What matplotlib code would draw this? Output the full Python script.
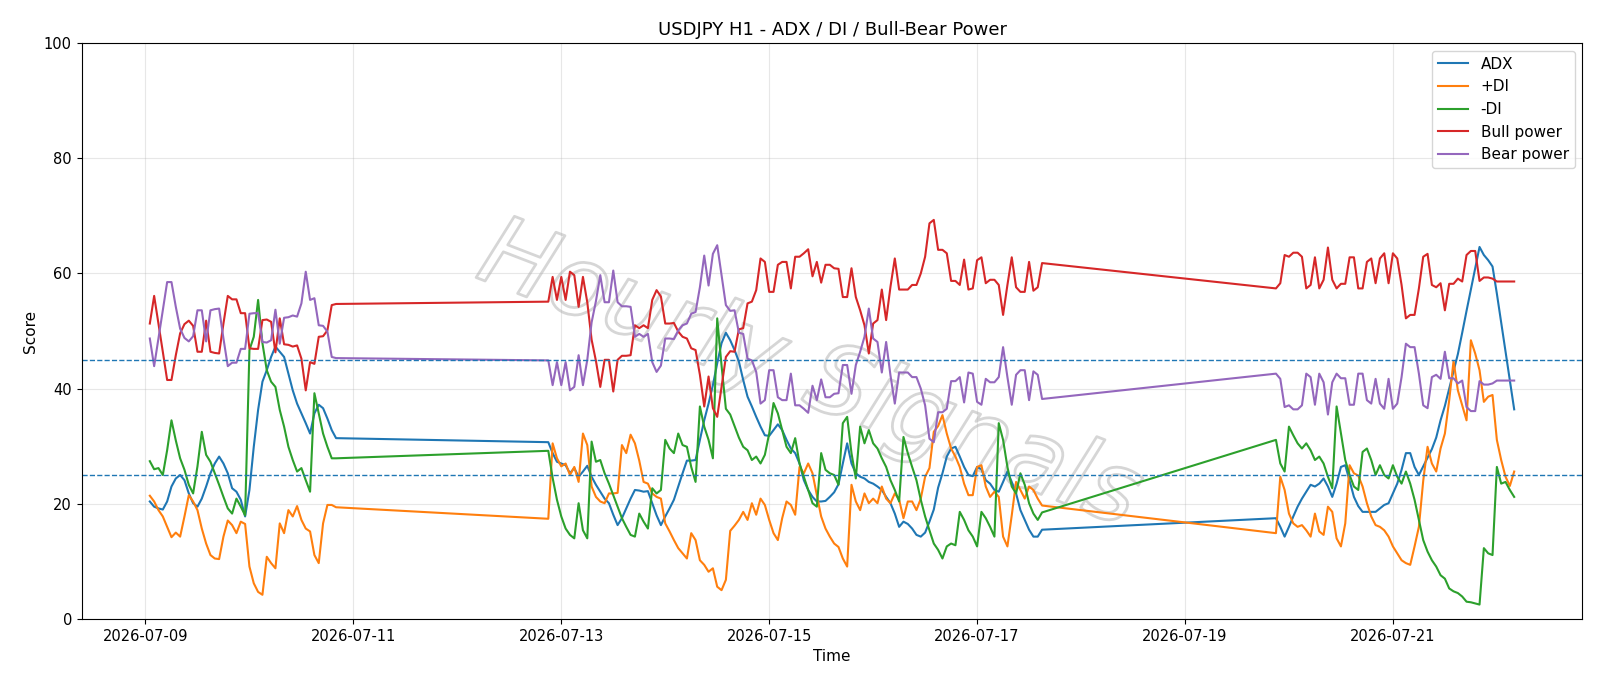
import matplotlib
matplotlib.use("Agg")
import matplotlib.pyplot as plt
import matplotlib.dates as mdates
import matplotlib.patheffects as pe
import pandas as pd

# ---- segment start times (hourly data, weekend gaps) ----
seg_starts = ["2026-07-09 01:00", "2026-07-12 21:00", "2026-07-19 21:00"]

# ---- ADX ----
adx_s1 = [20.4, 19.5, 19.2, 19.0, 20.4, 23.0, 24.4, 25.0, 24.1, 21.8, 20.1, 19.5, 20.9, 23.0, 25.3, 27.0, 28.2, 27.0,
          25.3, 22.7, 22.1, 20.7, 17.8, 22.4, 29.9, 36.3, 41.2, 43.2, 45.5, 47.3, 46.4, 45.5, 42.6, 39.7, 37.4, 35.7,
          34.0, 32.2, 35.7, 37.2, 36.6, 34.8, 32.8, 31.4]
adx_s2 = [30.7, 28.8, 27.3, 27.0, 26.7, 25.3, 26.2, 24.7, 25.6, 26.6, 24.7, 23.3, 22.1, 20.9, 20.1, 18.1, 16.3, 17.5,
          19.2, 20.9, 22.4, 22.3, 22.1, 22.2, 20.1, 18.0, 16.3, 17.8, 19.2, 20.7, 23.0, 25.3, 27.5, 27.5, 27.6, 31.1,
          34.5, 37.4, 40.6, 44.4, 47.9, 49.7, 48.4, 46.7, 44.7, 41.5, 38.6, 36.9, 35.1, 33.4, 31.9, 31.8, 32.8, 33.8,
          32.8, 31.1, 29.6, 28.8, 27.0, 24.1, 22.4, 21.2, 20.4, 20.4, 20.5, 21.2, 22.0, 23.4, 27.0, 30.5, 27.0, 25.3,
          24.7, 24.4, 23.8, 23.5, 23.0, 22.4, 21.2, 20.1, 18.3, 16.0, 16.9, 16.5, 15.7, 14.6, 14.3, 15.0, 16.9, 19.0,
          22.8, 25.3, 28.2, 29.6, 29.9, 28.2, 26.4, 25.0, 24.8, 26.4, 26.0, 24.1, 23.5, 22.4, 22.1, 23.8, 25.6, 23.8,
          21.8, 18.9, 17.2, 15.5, 14.3, 14.3, 15.5]
adx_s3 = [17.5, 16.0, 14.3, 16.0, 17.8, 19.5, 20.9, 22.1, 23.3, 23.0, 23.5, 24.4, 23.0, 21.2, 23.5, 26.4, 26.7, 24.0,
          21.2, 19.6, 18.6, 18.6, 18.6, 18.6, 19.2, 19.8, 20.1, 21.8, 23.5, 25.9, 28.8, 28.8, 26.4, 25.0, 26.5, 28.0,
          29.5, 31.5, 34.5, 37.0, 40.0, 43.0, 46.0, 49.7, 53.5, 57.2, 60.9, 64.6, 63.2, 62.3, 61.2, 56.5, 51.5, 46.5,
          41.4, 36.4]

# ---- +DI ----
pdi_s1 = [21.4, 20.4, 18.9, 17.8, 16.0, 14.2, 15.0, 14.3, 17.8, 21.5, 20.4, 18.9, 15.7, 13.1, 11.1, 10.5, 10.4, 14.3,
          17.1, 16.3, 14.9, 16.9, 16.5, 9.1, 6.2, 4.7, 4.2, 10.8, 9.7, 8.8, 16.6, 14.9, 18.9, 17.8, 19.6, 17.2, 15.7,
          15.2, 11.1, 9.7, 16.6, 19.8, 19.8, 19.4]
pdi_s2 = [17.4, 30.5, 27.9, 26.5, 27.0, 25.0, 26.4, 23.8, 32.2, 30.2, 23.0, 21.2, 20.4, 20.1, 21.8, 21.8, 21.9, 30.2,
          28.8, 32.0, 30.5, 27.5, 23.8, 23.5, 21.8, 21.2, 20.9, 16.6, 15.2, 13.7, 12.3, 11.4, 10.5, 14.9, 13.7, 10.2,
          9.4, 8.2, 8.8, 5.6, 5.0, 6.8, 15.3, 16.2, 17.2, 18.6, 17.2, 20.1, 18.1, 20.9, 19.8, 17.2, 14.9, 13.7, 17.5,
          20.4, 19.8, 18.1, 26.4, 25.3, 27.0, 25.3, 21.5, 17.8, 15.7, 14.3, 13.1, 12.5, 10.5, 9.1, 23.3, 20.4, 18.9,
          21.8, 20.1, 20.9, 20.1, 23.0, 20.9, 20.1, 21.8, 20.7, 17.5, 20.4, 20.4, 18.9, 20.9, 24.7, 26.2, 32.5, 33.5,
          35.4, 32.2, 29.6, 28.2, 26.4, 23.5, 21.5, 21.5, 26.4, 26.7, 23.0, 21.2, 22.1, 21.2, 14.3, 12.6, 18.0, 23.8,
          22.4, 20.9, 23.0, 22.4, 20.9, 19.7]
pdi_s3 = [14.9, 24.7, 22.4, 18.3, 16.6, 16.0, 16.3, 15.4, 14.3, 18.3, 15.2, 14.6, 19.5, 18.6, 14.0, 12.6, 16.6, 26.7,
          25.3, 24.9, 23.0, 20.1, 17.8, 16.3, 16.0, 15.4, 14.3, 12.6, 11.4, 10.2, 9.7, 9.4, 12.6, 16.0, 24.0, 29.9,
          27.0, 25.6, 29.6, 32.2, 38.0, 44.8, 39.7, 37.1, 34.5, 48.4, 46.1, 43.2, 37.7, 38.6, 38.9, 31.1, 27.6, 24.7,
          23.1, 25.6]

# ---- -DI ----
mdi_s1 = [27.4, 26.0, 26.2, 25.0, 29.3, 34.5, 31.0, 27.9, 25.9, 23.3, 21.8, 26.5, 32.5, 28.5, 27.3, 25.3, 23.3, 21.2,
          19.2, 18.3, 20.9, 19.5, 18.0, 46.7, 49.0, 55.4, 47.9, 43.2, 41.2, 40.3, 36.3, 33.4, 29.9, 27.6, 25.6, 26.2,
          24.1, 22.1, 39.2, 35.7, 32.2, 29.9, 27.9, 27.9]
mdi_s2 = [29.2, 24.5, 20.7, 17.8, 15.7, 14.6, 14.0, 20.1, 15.4, 14.0, 30.8, 27.3, 27.6, 25.3, 23.5, 21.5, 19.5, 17.5,
          16.0, 14.6, 14.3, 18.3, 16.9, 15.7, 22.7, 21.8, 22.4, 31.1, 29.6, 28.8, 32.2, 30.2, 29.9, 26.4, 23.8, 36.9,
          33.4, 31.1, 27.9, 52.2, 44.0, 36.5, 35.5, 33.5, 31.5, 29.9, 29.3, 27.6, 28.2, 27.0, 28.5, 32.2, 37.5, 35.7,
          32.8, 29.9, 28.8, 31.4, 27.0, 24.7, 22.4, 20.1, 19.5, 28.8, 25.9, 25.3, 25.0, 23.3, 34.0, 35.1, 28.8, 24.4,
          33.4, 30.5, 32.8, 30.5, 29.6, 27.9, 26.4, 24.1, 22.4, 20.4, 31.6, 28.8, 26.4, 24.1, 20.7, 17.8, 15.4, 13.1,
          12.0, 10.5, 12.6, 13.1, 12.8, 18.6, 17.2, 15.4, 14.3, 12.6, 18.6, 17.5, 16.0, 14.3, 34.0, 31.1, 26.4, 23.0,
          21.8, 25.3, 23.3, 20.1, 18.3, 17.2, 18.5]
mdi_s3 = [31.1, 27.0, 25.6, 33.4, 31.9, 30.5, 29.6, 30.5, 29.3, 27.6, 28.2, 27.0, 24.7, 22.7, 36.9, 32.2, 27.6, 25.0,
          23.0, 22.4, 29.0, 29.6, 27.6, 25.0, 26.7, 25.0, 24.4, 26.7, 24.7, 23.5, 25.6, 23.5, 20.7, 17.2, 13.7, 11.7,
          10.2, 9.1, 7.6, 7.0, 5.3, 4.8, 4.5, 3.9, 3.0, 2.9, 2.7, 2.5, 12.3, 11.4, 11.1, 26.4, 23.5, 23.8, 22.4, 21.2]

# ---- Bull power ----
bull_s1 = [51.3, 56.1, 51.3, 46.4, 41.5, 41.5, 45.8, 49.6, 51.2, 51.8, 50.9, 46.4, 46.4, 51.8, 46.4, 46.2, 46.1, 51.3,
           56.1, 55.5, 55.5, 53.1, 53.1, 47.0, 46.9, 46.9, 51.9, 52.0, 51.6, 46.3, 52.2, 47.7, 47.6, 47.3, 47.5, 45.2,
           39.7, 44.6, 44.3, 49.0, 49.1, 50.1, 54.5, 54.7]
bull_s2 = [55.1, 59.4, 55.4, 59.4, 55.4, 60.3, 59.7, 54.2, 59.4, 55.0, 48.5, 44.8, 40.3, 45.0, 45.0, 39.5, 45.0, 45.7,
           45.7, 45.8, 51.0, 50.5, 51.0, 50.5, 55.4, 57.1, 56.0, 51.3, 51.3, 51.4, 49.9, 49.0, 48.7, 47.0, 46.7, 42.4,
           36.9, 42.1, 36.6, 35.1, 40.3, 45.5, 46.5, 46.4, 50.3, 50.5, 54.8, 55.1, 57.1, 62.6, 62.0, 56.8, 56.8, 61.5,
           62.0, 62.0, 57.4, 62.9, 62.9, 63.5, 64.2, 59.5, 62.0, 58.4, 61.5, 61.5, 60.9, 60.8, 55.9, 55.9, 60.9, 55.9,
           53.6, 51.0, 46.1, 51.3, 51.9, 57.2, 51.9, 57.7, 62.6, 57.2, 57.2, 57.2, 58.0, 58.0, 60.0, 62.9, 68.7, 69.3,
           64.1, 64.1, 63.5, 58.7, 58.7, 58.0, 62.4, 57.2, 57.4, 62.3, 62.8, 58.3, 58.9, 58.9, 58.0, 52.8, 58.0, 62.8,
           57.6, 56.8, 56.8, 62.0, 57.0, 57.6, 61.8]
bull_s3 = [57.4, 58.3, 63.2, 62.9, 63.6, 63.6, 62.9, 57.4, 58.0, 62.8, 57.4, 58.9, 64.5, 58.9, 57.4, 58.2, 58.2, 62.8,
           62.8, 57.4, 57.4, 62.0, 62.6, 58.3, 62.6, 63.5, 58.3, 63.5, 62.6, 58.0, 52.2, 52.8, 52.8, 57.4, 62.9, 63.4,
           58.0, 57.6, 58.3, 53.6, 58.2, 58.2, 59.1, 58.6, 63.2, 63.9, 63.9, 58.7, 59.3, 59.3, 59.1, 58.6, 58.6, 58.6,
           58.6, 58.6]

# ---- Bear power ----
bear_s1 = [48.7, 43.9, 48.7, 53.6, 58.5, 58.5, 54.2, 50.4, 48.8, 48.2, 49.1, 53.6, 53.6, 48.2, 53.6, 53.8, 53.9, 48.7,
           43.9, 44.5, 44.5, 46.9, 46.9, 53.0, 53.1, 53.1, 48.1, 48.0, 48.4, 53.7, 47.8, 52.3, 52.4, 52.7, 52.5, 54.8,
           60.3, 55.4, 55.7, 51.0, 50.9, 49.9, 45.5, 45.3]
bear_s2 = [44.9, 40.6, 44.6, 40.6, 44.6, 39.7, 40.3, 45.8, 40.6, 45.0, 51.5, 55.2, 59.7, 55.0, 55.0, 60.5, 55.0, 54.3,
           54.3, 54.2, 49.0, 49.5, 49.0, 49.5, 44.6, 42.9, 44.0, 48.7, 48.7, 48.6, 50.1, 51.0, 51.3, 53.0, 53.3, 57.6,
           63.1, 57.9, 63.4, 64.9, 59.7, 54.5, 53.5, 53.6, 49.7, 49.5, 45.2, 44.9, 42.9, 37.4, 38.0, 43.2, 43.2, 38.5,
           38.0, 38.0, 42.6, 37.1, 37.1, 36.5, 35.8, 40.5, 38.0, 41.6, 38.5, 38.5, 39.1, 39.2, 44.1, 44.1, 39.1, 44.1,
           46.4, 49.0, 53.9, 48.7, 48.1, 42.8, 48.1, 42.3, 37.4, 42.8, 42.8, 42.8, 42.0, 42.0, 40.0, 37.1, 31.3, 30.7,
           35.9, 35.9, 36.5, 41.3, 41.3, 42.0, 37.6, 42.8, 42.6, 37.7, 37.2, 41.7, 41.1, 41.1, 42.0, 47.2, 42.0, 37.2,
           42.4, 43.2, 43.2, 38.0, 43.0, 42.4, 38.2]
bear_s3 = [42.6, 41.7, 36.8, 37.1, 36.4, 36.4, 37.1, 42.6, 42.0, 37.2, 42.6, 41.1, 35.5, 41.1, 42.6, 41.8, 41.8, 37.2,
           37.2, 42.6, 42.6, 38.0, 37.4, 41.7, 37.4, 36.5, 41.7, 36.5, 37.4, 42.0, 47.8, 47.2, 47.2, 42.6, 37.1, 36.6,
           42.0, 42.4, 41.7, 46.4, 41.8, 41.8, 40.9, 41.4, 36.8, 36.1, 36.1, 41.3, 40.7, 40.7, 40.9, 41.4, 41.4, 41.4,
           41.4, 41.4]

adx = adx_s1 + adx_s2 + adx_s3
pdi = pdi_s1 + pdi_s2 + pdi_s3
mdi = mdi_s1 + mdi_s2 + mdi_s3
bull = bull_s1 + bull_s2 + bull_s3
bear = bear_s1 + bear_s2 + bear_s3

seg_lens = [len(adx_s1), len(adx_s2), len(adx_s3)]
times = []
for start, n in zip(seg_starts, seg_lens):
    times.extend(pd.date_range(start, periods=n, freq="h"))

fig = plt.figure(figsize=(16, 6.86), dpi=100)
ax = fig.add_axes([0.051, 0.0977, 0.938, 0.8395])

ax.text(0.485, 0.42, "Hourly Signals", transform=ax.transAxes, fontsize=70,
        rotation=-21, ha="center", va="center", style="italic",
        color=(1, 1, 1, 0), zorder=0.5,
        path_effects=[pe.withStroke(linewidth=2.0, foreground=(0.6, 0.6, 0.6, 0.4))])

ax.plot(times, adx, color="C0", lw=1.5, label="ADX")
ax.plot(times, pdi, color="C1", lw=1.5, label="+DI")
ax.plot(times, mdi, color="C2", lw=1.5, label="-DI")
ax.plot(times, bull, color="C3", lw=1.5, label="Bull power")
ax.plot(times, bear, color="C4", lw=1.5, label="Bear power")

ax.axhline(45, color="C0", ls="--", lw=1.0)
ax.axhline(25, color="C0", ls="--", lw=1.0)

ax.set_ylim(0, 100)
ax.set_title("USDJPY H1 - ADX / DI / Bull-Bear Power", fontsize=13)
ax.set_xlabel("Time", fontsize=11)
ax.set_ylabel("Score", fontsize=11)
ax.grid(True, alpha=0.3)
ax.xaxis.set_major_locator(mdates.DayLocator(interval=2))
ax.xaxis.set_major_formatter(mdates.DateFormatter("%Y-%m-%d"))
ax.tick_params(labelsize=10.5)
ax.legend(loc="upper right", fontsize=11)

fig.savefig("out.png", dpi=100)
